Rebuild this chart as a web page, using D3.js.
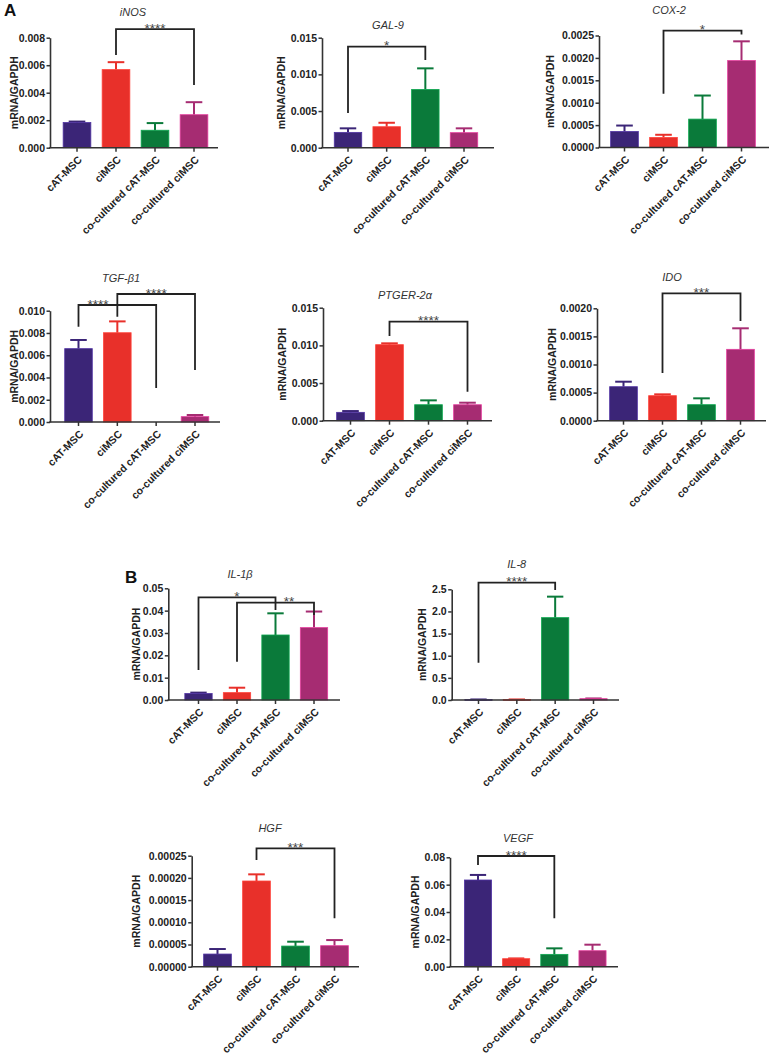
<!DOCTYPE html>
<html><head><meta charset="utf-8">
<script src="https://cdn.jsdelivr.net/npm/d3@7"></script>
<style>
body{margin:0;background:#fff;}
svg{display:block;}
text{font-family:"Liberation Sans",Arial,Helvetica,sans-serif;}
</style>
</head><body>
<svg id="c" width="773" height="1062"></svg>
<script>
// ---------- DATA ----------
const categories = ["cAT-MSC", "ciMSC", "co-cultured cAT-MSC", "co-cultured ciMSC"];
const barColors = ["#3b2577", "#e8302a", "#0a7a3a", "#a62c72"];

// means and SEM (upper error bar only)
const inosMean = [0.00183, 0.00568, 0.00127, 0.00240];
const inosSem  = [0.00007, 0.00054, 0.00052, 0.00091];
const inosTicks = ["0.000", "0.002", "0.004", "0.006", "0.008"];
const inosBrackets = [{from: 1, to: 3, label: "****", top: 0.00863, fromEnd: 0.00674, toEnd: 0.00456}];

const gal9Mean = [0.00209, 0.00286, 0.00795, 0.00205];
const gal9Sem  = [0.00055, 0.00054, 0.00287, 0.00059];
const gal9Ticks = ["0.000", "0.005", "0.010", "0.015"];
const gal9Brackets = [{from: 0, to: 2, label: "*", top: 0.01377, fromEnd: 0.00473, toEnd: 0.01196}];

const cox2Mean = [0.000358, 0.000224, 0.000634, 0.00194];
const cox2Sem  = [0.000132, 0.000060, 0.000526, 0.00043];
const cox2Ticks = ["0.0000", "0.0005", "0.0010", "0.0015", "0.0020", "0.0025"];
const cox2Brackets = [{from: 1, to: 3, label: "*", top: 0.00261, fromEnd: 0.00120, toEnd: 0.00252}];

const tgfMean = [0.00659, 0.00802, 0, 0.00048];
const tgfSem  = [0.00078, 0.00102, 0, 0.00015];
const tgfTicks = ["0.000", "0.002", "0.004", "0.006", "0.008", "0.010"];
const tgfBrackets = [
  {from: 0, to: 2, label: "****", top: 0.01051, fromEnd: 0.00856, toEnd: 0.00305, at: 0.5},
  {from: 1, to: 3, label: "****", top: 0.01150, fromEnd: 0.00946, toEnd: 0.00467}
];

const ptgerMean = [0.00111, 0.01009, 0.00212, 0.00212];
const ptgerSem  = [0.00017, 0.00018, 0.00058, 0.00027];
const ptgerTicks = ["0.000", "0.005", "0.010", "0.015"];
const ptgerBrackets = [{from: 1, to: 3, label: "****", top: 0.01314, fromEnd: 0.01124, toEnd: 0.00385}];

const idoMean = [0.000605, 0.000445, 0.000285, 0.00127];
const idoSem  = [0.000089, 0.000024, 0.000113, 0.000374];
const idoTicks = ["0.0000", "0.0005", "0.0010", "0.0015", "0.0020"];
const idoBrackets = [{from: 1, to: 3, label: "***", top: 0.002267, fromEnd: 0.000849, toEnd: 0.001774}];

const il1bMean = [0.0029, 0.0033, 0.0291, 0.0324];
const il1bSem  = [0.0004, 0.0022, 0.0097, 0.0072];
const il1bTicks = ["0.00", "0.01", "0.02", "0.03", "0.04", "0.05"];
const il1bBrackets = [
  {from: 0, to: 2, label: "*", top: 0.04597, fromEnd: 0.01343, toEnd: 0.0403},
  {from: 1, to: 3, label: "**", top: 0.04355, fromEnd: 0.01714, toEnd: 0.03805, at: 2.35}
];

const il8Mean = [0.010, 0.010, 1.86, 0.030];
const il8Sem  = [0.002, 0.002, 0.474, 0.005];
const il8Ticks = ["0.0", "0.5", "1.0", "1.5", "2.0", "2.5"];
const il8Brackets = [{from: 0, to: 2, label: "****", top: 2.649, fromEnd: 0.842, toEnd: 2.484}];

const hgfMean = [0.0000285, 0.000193, 0.0000465, 0.0000473];
const hgfSem  = [0.0000113, 0.000015, 0.0000098, 0.0000127];
const hgfTicks = ["0.00000", "0.00005", "0.00010", "0.00015", "0.00020", "0.00025"];
const hgfBrackets = [{from: 1, to: 3, label: "***", top: 0.0002667, fromEnd: 0.0002403, toEnd: 0.000109}];

const vegfMean = [0.0634, 0.00585, 0.00902, 0.0117];
const vegfSem  = [0.0037, 0.0002, 0.0044, 0.0044];
const vegfTicks = ["0.00", "0.02", "0.04", "0.06", "0.08"];
const vegfBrackets = [{from: 0, to: 2, label: "****", top: 0.08095, fromEnd: 0.07437, toEnd: 0.0354}];

const yLabel = "mRNA/GAPDH";
const panelLetters = ["A", "B"];

// ---------- LAYOUT (positions only) ----------
const panels = [
  {title: "iNOS",     mean: inosMean,  sem: inosSem,  ticks: inosTicks,  brackets: inosBrackets,
   ax: 50,    axEnd: 218, c0: 77,    c3: 194,   y0: 147.7, yTop: 37.7,  titleX: 133, titleY: 12,    labelX: 14},
  {title: "GAL-9",    mean: gal9Mean,  sem: gal9Sem,  ticks: gal9Ticks,  brackets: gal9Brackets,
   ax: 322,   axEnd: 494, c0: 348,   c3: 464,   y0: 147.7, yTop: 37.7,  titleX: 388, titleY: 25,    labelX: 281},
  {title: "COX-2",    mean: cox2Mean,  sem: cox2Sem,  ticks: cox2Ticks,  brackets: cox2Brackets,
   ax: 599,   axEnd: 769, c0: 624.5, c3: 741.5, y0: 147.5, yTop: 35.5,  titleX: 669, titleY: 10,    labelX: 550},
  {title: "TGF-β1",   mean: tgfMean,   sem: tgfSem,   ticks: tgfTicks,   brackets: tgfBrackets,
   ax: 50,    axEnd: 220, c0: 78.5,  c3: 195,   y0: 422,   yTop: 310.7, titleX: 121, titleY: 278,   labelX: 14},
  {title: "PTGER-2α", mean: ptgerMean, sem: ptgerSem, ticks: ptgerTicks, brackets: ptgerBrackets,
   ax: 323,   axEnd: 492, c0: 350.5, c3: 467.5, y0: 420.7, yTop: 307.7, titleX: 405, titleY: 295,   labelX: 282},
  {title: "IDO",      mean: idoMean,   sem: idoSem,   ticks: idoTicks,   brackets: idoBrackets,
   ax: 597,   axEnd: 766, c0: 623.5, c3: 740.5, y0: 420.7, yTop: 308.3, titleX: 672, titleY: 276.7, labelX: 552},
  {title: "IL-1β",    mean: il1bMean,  sem: il1bSem,  ticks: il1bTicks,  brackets: il1bBrackets,
   ax: 168.3, axEnd: 340, c0: 198.5, c3: 314,   y0: 700,   yTop: 588.3, titleX: 240, titleY: 574,   labelX: 136.5},
  {title: "IL-8",     mean: il8Mean,   sem: il8Sem,   ticks: il8Ticks,   brackets: il8Brackets,
   ax: 451.7, axEnd: 619, c0: 478.5, c3: 593.5, y0: 700,   yTop: 589.3, titleX: 516.7, titleY: 563.5, labelX: 422.7},
  {title: "HGF",      mean: hgfMean,   sem: hgfSem,   ticks: hgfTicks,   brackets: hgfBrackets,
   ax: 191.7, axEnd: 359, c0: 217.5, c3: 334.5, y0: 966.7, yTop: 855.7, titleX: 270, titleY: 828.3, labelX: 136.7},
  {title: "VEGF",     mean: vegfMean,  sem: vegfSem,  ticks: vegfTicks,  brackets: vegfBrackets,
   ax: 450,   axEnd: 618, c0: 478,   c3: 592.5, y0: 966.7, yTop: 857.3, titleX: 518, titleY: 838.3, labelX: 415}
];
const letterPos = [{x: 4, y: 16}, {x: 125, y: 583}];

const axisColor = "#333";
const textColor = "#222";

const svg = d3.select("#c");

panelLetters.forEach((L, i) => {
  svg.append("text").attr("x", letterPos[i].x).attr("y", letterPos[i].y)
    .attr("font-size", 17).attr("font-weight", "bold").attr("fill", "#111").text(L);
});

panels.forEach(p => {
  const g = svg.append("g");
  const step = (p.c3 - p.c0) / 3;
  const pin = 0.29;
  const x = d3.scaleBand().domain(categories)
    .range([p.c0 - step / 2, p.c3 + step / 2])
    .paddingInner(pin).paddingOuter(pin / 2);
  const tickVals = p.ticks.map(Number);
  const y = d3.scaleLinear().domain([0, d3.max(tickVals)]).range([p.y0, p.yTop]);
  const bw = x.bandwidth();
  const color = d3.scaleOrdinal().domain(categories).range(barColors);

  const rows = categories.map((c, i) => ({c, m: p.mean[i], s: p.sem[i]}));

  // error bars (upper only)
  const eb = g.append("g").selectAll("g").data(rows.filter(d => d.s > 0)).join("g")
    .attr("stroke", d => color(d.c)).attr("stroke-width", 2).attr("fill", "none");
  eb.append("line")
    .attr("x1", d => x(d.c) + bw / 2).attr("x2", d => x(d.c) + bw / 2)
    .attr("y1", d => y(d.m)).attr("y2", d => y(d.m + d.s));
  eb.append("line")
    .attr("x1", d => x(d.c) + bw / 2 - bw * 0.3).attr("x2", d => x(d.c) + bw / 2 + bw * 0.3)
    .attr("y1", d => y(d.m + d.s)).attr("y2", d => y(d.m + d.s));

  // bars
  g.append("g").selectAll("rect").data(rows.filter(d => d.m > 0)).join("rect")
    .attr("x", d => x(d.c)).attr("width", bw)
    .attr("y", d => y(d.m)).attr("height", d => Math.max(0.8, y(0) - y(d.m)))
    .attr("fill", d => color(d.c))
    .attr("stroke", d => d3.color(color(d.c)).brighter(0.9))
    .attr("stroke-width", 0.8);

  // y axis
  const ya = g.append("g").attr("transform", `translate(${p.ax},0)`)
    .call(d3.axisLeft(y).tickValues(tickVals).tickFormat((d, i) => p.ticks[i])
      .tickSize(3.5).tickSizeOuter(0).tickPadding(1.5));
  ya.select(".domain").attr("stroke", axisColor).attr("stroke-width", 1.6);
  ya.selectAll(".tick line").attr("stroke", axisColor).attr("stroke-width", 1.5);
  ya.selectAll(".tick text").attr("font-size", 10.5).attr("font-weight", "bold")
    .attr("fill", textColor).attr("font-family", '"Liberation Sans",Arial,sans-serif');

  // x axis baseline
  g.append("line").attr("x1", p.ax - 0.8).attr("x2", p.axEnd).attr("y1", p.y0).attr("y2", p.y0)
    .attr("stroke", axisColor).attr("stroke-width", 1.6);
  const xa = g.append("g").attr("transform", `translate(0,${p.y0})`)
    .call(d3.axisBottom(x).tickSize(4).tickSizeOuter(0));
  xa.select(".domain").remove();
  xa.selectAll(".tick line").attr("stroke", axisColor).attr("stroke-width", 1.5);
  xa.selectAll(".tick text")
    .attr("y", null).attr("x", null).attr("dy", "0.35em")
    .attr("text-anchor", "end")
    .attr("transform", "translate(3,10) rotate(-45)")
    .attr("font-size", 10.5).attr("font-weight", "bold").attr("fill", textColor)
    .attr("font-family", '"Liberation Sans",Arial,sans-serif');

  // y label
  g.append("text")
    .attr("transform", `translate(${p.labelX},${(p.y0 + p.yTop) / 2}) rotate(-90)`)
    .attr("text-anchor", "middle").attr("dy", "0.35em")
    .attr("font-size", 10.5).attr("font-weight", "bold").attr("fill", textColor)
    .text(yLabel);

  // title
  g.append("text").attr("x", p.titleX).attr("y", p.titleY + 4)
    .attr("text-anchor", "middle").attr("font-size", 11).attr("font-style", "italic")
    .attr("fill", "#333").text(p.title);

  // significance brackets
  const cx = i => x(categories[i]) + bw / 2;
  const posAt = a => {
    const i0 = Math.floor(a), f = a - i0;
    return f === 0 ? cx(i0) : cx(i0) + f * (cx(i0 + 1) - cx(i0));
  };
  p.brackets.forEach(b => {
    const path = d3.path();
    path.moveTo(cx(b.from), y(b.fromEnd));
    path.lineTo(cx(b.from), y(b.top));
    path.lineTo(cx(b.to), y(b.top));
    path.lineTo(cx(b.to), y(b.toEnd));
    g.append("path").attr("d", path.toString()).attr("fill", "none")
      .attr("stroke", "#222").attr("stroke-width", 1.8);
    const sx = b.at !== undefined ? posAt(b.at) : (cx(b.from) + cx(b.to)) / 2;
    g.append("text").attr("x", sx).attr("y", y(b.top) + 3.5)
      .attr("text-anchor", "middle").attr("font-size", 13.5).attr("fill", "#444")
      .text(b.label);
  });
});
</script>
</body></html>
